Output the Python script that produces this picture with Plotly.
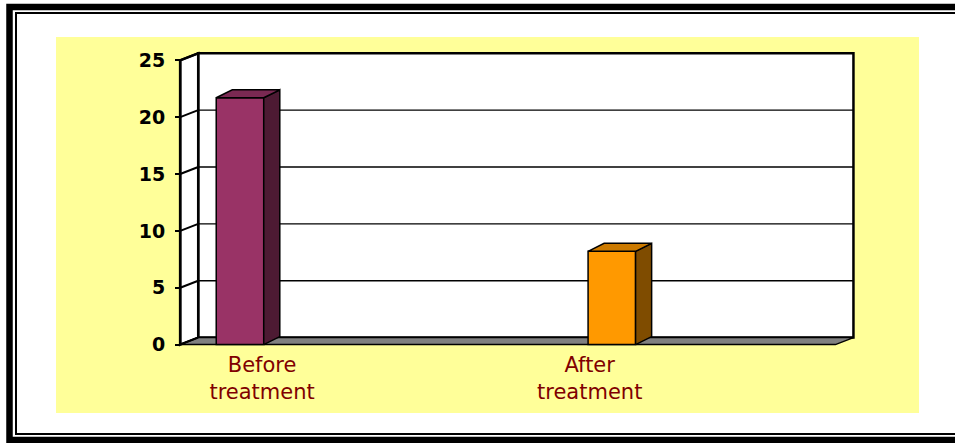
import plotly.graph_objects as go

# ---------------- data ----------------
categories = ["Before treatment", "After treatment"]
values = [21.7, 8.2]
y_ticks = [0, 5, 10, 15, 20, 25]
y_tick_labels = ["0", "5", "10", "15", "20", "25"]

# ---------------- styles ----------------
front_colors = ["#993366", "#FF9900"]
top_colors = ["#7A2952", "#CC7A00"]
side_colors = ["#4D1A33", "#7F4C00"]
slot_of_category = [0, 2]          # Excel leaves empty slots between
bar_offsets = [-0.28, -0.01]
bar_width = 0.29
bdx, bdy = 0.098, 0.70             # bar depth (3D)
wdx, wdy = 0.11, 0.614             # wall depth (3D)

W, H = 955, 443
L, R, T, B = 172, 95, 50, 95
pw, ph = W - L - R, H - T - B
XR = [-0.55, 3.65]
YR = [-0.3, 25.9]
X0, X1 = -0.5, 3.5                 # front floor extent
YMAX = max(y_ticks)


def px_x(px):
    return (px - L) / pw


def px_y(py):
    return (H - B - py) / ph


fig = go.Figure()

# 3D bars: front face (bar), side and top faces (filled polygons)
for i, cat in enumerate(categories):
    pos = slot_of_category[i]
    v = values[i]
    left = pos + bar_offsets[i]
    right = left + bar_width
    fig.add_trace(go.Bar(
        x=[pos], y=[v], width=[bar_width], offset=[bar_offsets[i]],
        marker=dict(color=front_colors[i], line=dict(color="black", width=1.5)),
        name=cat, showlegend=False, hoverinfo="skip"))
    fig.add_trace(go.Scatter(
        x=[right, right + bdx, right + bdx, right, right],
        y=[0, bdy, v + bdy, v, 0],
        fill="toself", fillcolor=side_colors[i], mode="lines",
        line=dict(color="black", width=1.5), showlegend=False, hoverinfo="skip"))
    fig.add_trace(go.Scatter(
        x=[left, left + bdx, right + bdx, right, left],
        y=[v, v + bdy, v + bdy, v, v],
        fill="toself", fillcolor=top_colors[i], mode="lines",
        line=dict(color="black", width=1.5), showlegend=False, hoverinfo="skip"))

shapes = []
# yellow chart area
shapes.append(dict(type="rect", xref="paper", yref="paper", layer="below",
                   x0=px_x(56), x1=px_x(919), y0=px_y(413), y1=px_y(37),
                   fillcolor="#FFFF99", line=dict(width=0)))
# back wall
shapes.append(dict(type="rect", xref="x", yref="y", layer="below",
                   x0=X0 + wdx, x1=X1 + wdx, y0=wdy, y1=YMAX + wdy,
                   fillcolor="white", line=dict(color="black", width=2.5)))
# left wall
shapes.append(dict(type="path", xref="x", yref="y", layer="below",
                   path=f"M {X0},0 L {X0 + wdx},{wdy} L {X0 + wdx},{YMAX + wdy} L {X0},{YMAX} Z",
                   fillcolor="white", line=dict(color="black", width=2.5)))
# floor
shapes.append(dict(type="path", xref="x", yref="y", layer="below",
                   path=f"M {X0},0 L {X0 + wdx},{wdy} L {X1 + wdx},{wdy} L {X1},0 Z",
                   fillcolor="#808080", line=dict(color="black", width=1.5)))
# gridlines on back wall + connectors on left wall
for t in y_ticks:
    if 0 < t < YMAX:
        shapes.append(dict(type="line", xref="x", yref="y", layer="below",
                           x0=X0 + wdx, x1=X1 + wdx, y0=t + wdy, y1=t + wdy,
                           line=dict(color="black", width=1.3)))
    shapes.append(dict(type="line", xref="x", yref="y", layer="below",
                       x0=X0, x1=X0 + wdx, y0=t, y1=t + wdy,
                       line=dict(color="black", width=2)))
# front axis line
shapes.append(dict(type="line", xref="x", yref="y", layer="below",
                   x0=X0, x1=X0, y0=0, y1=YMAX, line=dict(color="black", width=2.5)))


# outer double border: top, left, bottom only (right side lies outside the picture)
def border(x_left, y_top, y_bottom, width):
    path = (f"M {px_x(W + 10)},{px_y(y_top)} L {px_x(x_left)},{px_y(y_top)} "
            f"L {px_x(x_left)},{px_y(y_bottom)} L {px_x(W + 10)},{px_y(y_bottom)}")
    return dict(type="path", xref="paper", yref="paper", layer="above",
                path=path, line=dict(color="black", width=width))


shapes.append(border(9.5, 7, 440, 6.5))
shapes.append(border(16, 13, 434, 2))

fig.update_layout(
    width=W, height=H,
    margin=dict(l=L, r=R, t=T, b=B, pad=0),
    paper_bgcolor="white",
    plot_bgcolor="rgba(0,0,0,0)",
    barmode="overlay",
    shapes=shapes,
    showlegend=False,
    xaxis=dict(range=XR, showgrid=False, zeroline=False, showline=False,
               tickmode="array", tickvals=slot_of_category,
               ticktext=[c.replace(" ", "<br>") for c in categories],
               ticks="", ticklabelstandoff=2,
               tickfont=dict(family="DejaVu Sans", size=21, color="#800000"),
               fixedrange=True),
    yaxis=dict(range=YR, anchor="free", position=px_x(180),
               showgrid=False, zeroline=False, showline=False,
               tickmode="array", tickvals=y_ticks, ticktext=y_tick_labels,
               ticks="outside", ticklen=5, tickwidth=2, tickcolor="black",
               ticklabelstandoff=6,
               tickfont=dict(family="DejaVu Sans", size=19, color="black", weight="bold"),
               fixedrange=True),
)

fig.write_html("out.html")
